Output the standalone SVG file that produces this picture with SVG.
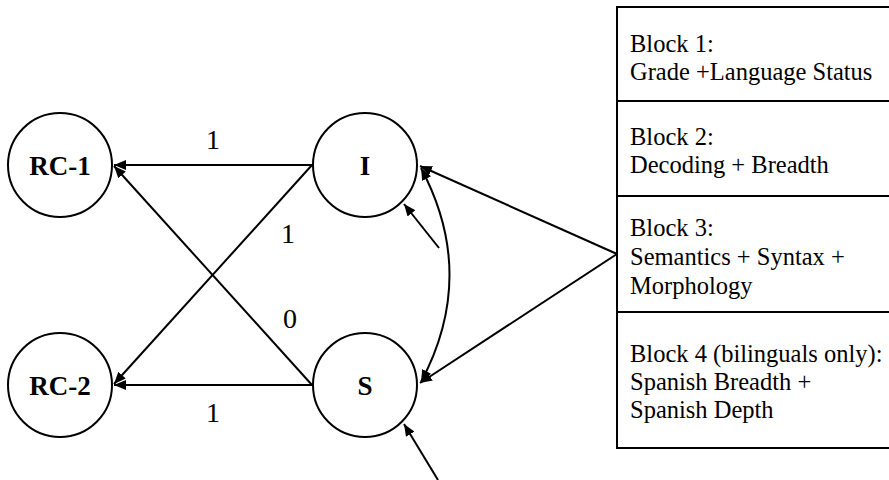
<svg xmlns="http://www.w3.org/2000/svg" width="889" height="480" viewBox="0 0 889 480">
<style>
.node{fill:#fff;stroke:#000;stroke-width:2}
.nl{font-family:"Liberation Serif","Times New Roman",serif;font-weight:bold;font-size:27px;text-anchor:middle;fill:#000}
.el{font-family:"Liberation Serif","Times New Roman",serif;font-size:28px;text-anchor:middle;fill:#000}
.bt{font-family:"Liberation Serif","Times New Roman",serif;font-size:24.5px;fill:#000}
.c{fill:none;stroke:#000;stroke-width:2;marker-end:url(#ah)}
.box{fill:#fff;stroke:#000;stroke-width:2}
</style>
<defs>
<marker id="ah" markerUnits="userSpaceOnUse" markerWidth="13" markerHeight="10" refX="12" refY="5" orient="auto-start-reverse">
<path d="M0,0 L12,5 L0,10 z" fill="#000"/>
</marker>
</defs>
<rect width="889" height="480" fill="#fff"/>
<g id="connectors">
<path class="c" d="M312,165 L114,165"/>
<path class="c" d="M312,385 L114,385"/>
<path class="c" d="M312,165 L114,384"/>
<path class="c" d="M312,385 L114,166"/>
<path class="c" d="M617,254 L420,166"/>
<path class="c" d="M617,254 L420,383"/>
<path class="c" d="M439,248 L404,204"/>
<path class="c" d="M438,480 L404,424"/>
<path class="c" style="marker-start:url(#ah)" d="M421,168 Q478,275 421,382"/>
<text class="el" x="213" y="149">1</text>
<text class="el" x="213" y="422">1</text>
<text class="el" x="288" y="243">1</text>
<text class="el" x="290" y="328">0</text>
</g>
<g id="RC-1"><circle class="node" cx="60" cy="165" r="52"/><text class="nl" x="60" y="175">RC-1</text></g>
<g id="RC-2"><circle class="node" cx="60" cy="385" r="52"/><text class="nl" x="60" y="395">RC-2</text></g>
<g id="I"><circle class="node" cx="365" cy="165" r="52"/><text class="nl" x="365" y="175">I</text></g>
<g id="S"><circle class="node" cx="365" cy="385" r="52"/><text class="nl" x="365" y="395">S</text></g>
<g id="blocks">
<rect class="box" x="617" y="7" width="280" height="441"/>
<line x1="617" y1="101" x2="889" y2="101" stroke="#000" stroke-width="2"/>
<line x1="617" y1="196" x2="889" y2="196" stroke="#000" stroke-width="2"/>
<line x1="617" y1="312" x2="889" y2="312" stroke="#000" stroke-width="2"/>
<text class="bt" x="630" y="52">Block 1:</text>
<text class="bt" x="630" y="80">Grade +Language Status</text>
<text class="bt" x="630" y="145">Block 2:</text>
<text class="bt" x="630" y="173">Decoding + Breadth</text>
<text class="bt" x="630" y="236">Block 3:</text>
<text class="bt" x="630" y="265">Semantics + Syntax +</text>
<text class="bt" x="630" y="294">Morphology</text>
<text class="bt" x="630" y="362">Block 4 (bilinguals only):</text>
<text class="bt" x="630" y="390">Spanish Breadth +</text>
<text class="bt" x="630" y="418">Spanish Depth</text>
</g>
</svg>
